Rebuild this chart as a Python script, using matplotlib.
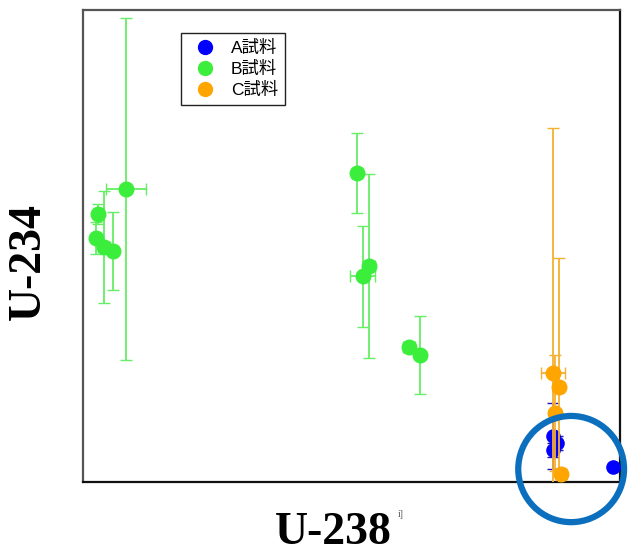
import matplotlib
matplotlib.use("Agg")
import matplotlib.pyplot as plt
from matplotlib.patches import Ellipse
from matplotlib.lines import Line2D

plt.rcParams['font.family'] = ['Liberation Sans', 'Noto Sans CJK JP', 'DejaVu Sans']

# Data (arbitrary units, axes without ticks)
a_x = [87.5, 87.5, 88.2, 98.7]
a_y = [9.7, 6.8, 8.3, 3.2]
a_yerr = [7.0, 1.5, 1.5, 0.0]

b_x = [8.0, 2.8, 2.4, 3.9, 5.6, 51.0, 53.3, 52.1, 60.7, 62.8]
b_y = [62.1, 56.8, 51.7, 49.8, 48.9, 65.5, 45.8, 43.6, 28.6, 26.9]
b_xerr = [3.7, 0.8, 0.8, 1.2, 0.8, 1.0, 1.0, 2.3, 1.1, 0.5]
b_yerr = [36.2, 2.2, 3.4, 11.9, 8.3, 8.4, 19.5, 10.7, 1.0, 8.3]

c_x = [87.5, 88.6, 87.9, 89.0]
c_y = [23.1, 20.1, 14.6, 1.7]
c_xerr = [2.2, 1.0, 0.8, 1.0]
c_yerr = [51.9, 27.3, 12.3, 1.0]

labels = ['A試料', 'B試料', 'C試料']
colors = ['#0000FF', '#3CEE3C', '#FFA500']

fig = plt.figure(figsize=(6.29, 5.57), dpi=100)
ax = fig.add_axes([0.132, 0.1346, 0.8537, 0.8474])

ax.errorbar(a_x, a_y, yerr=a_yerr, fmt='o', color=colors[0], ecolor='#2211BB',
            markersize=9.5, elinewidth=1.3, capsize=4, zorder=3)
ax.errorbar(b_x, b_y, xerr=b_xerr, yerr=b_yerr, fmt='o', color=colors[1], ecolor='#66EE66',
            markersize=10.5, elinewidth=1.3, capsize=4.5, zorder=3)
ax.errorbar(c_x, c_y, xerr=c_xerr, yerr=c_yerr, fmt='o', color=colors[2], ecolor='#F5B030',
            markersize=10.5, elinewidth=1.3, capsize=4.5, zorder=4)

ax.set_xlim(0, 100)
ax.set_ylim(0, 100)
ax.set_xticks([])
ax.set_yticks([])
for side in ['left', 'top']:
    ax.spines[side].set_color('#555555')
    ax.spines[side].set_linewidth(1.6)
for side in ['right', 'bottom']:
    ax.spines[side].set_color('#111111')
    ax.spines[side].set_linewidth(1.6)

handles = [Line2D([], [], linestyle='none', marker='o', markersize=10,
                  color=c) for c in colors]
leg = ax.legend(handles, labels, loc='upper left', bbox_to_anchor=(0.182, 0.951), fontsize=12.5,
                frameon=True, fancybox=False, edgecolor='#222222', framealpha=1,
                handletextpad=0.5, borderpad=0.38, labelspacing=0.3, handlelength=2.0,
                borderaxespad=0)
leg.get_frame().set_linewidth(1.0)

ax.set_xlabel('U-238', family='Liberation Serif', fontweight='bold', fontsize=33)
ax.set_ylabel('U-234', family='Liberation Serif', fontweight='bold', fontsize=33)
ax.xaxis.set_label_coords(0.466, -0.063)
ax.yaxis.set_label_coords(-0.062, 0.468)

fig.text(0.632, 0.072, 'i]', fontsize=7, color='#555555', family='Liberation Serif')

circ = Ellipse((90.9, 2.75), width=19.7, height=22.5, fill=False, edgecolor='#0B6FBE',
               linewidth=4.5, clip_on=False, zorder=6)
ax.add_patch(circ)

fig.savefig('out.png', dpi=100)
